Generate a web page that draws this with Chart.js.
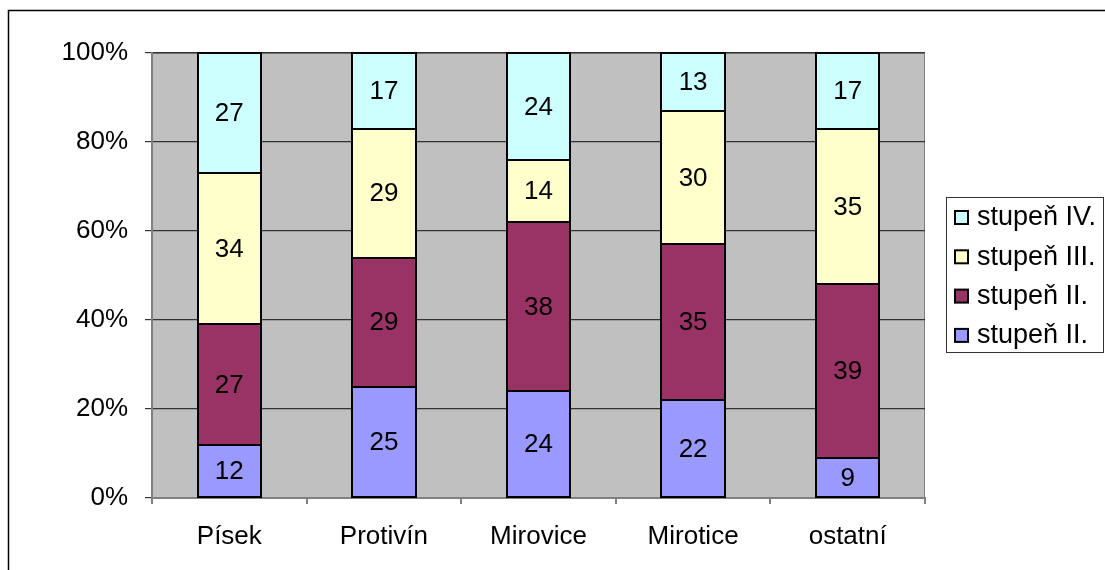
<!DOCTYPE html>
<html>
<head>
<meta charset="utf-8">
<script src="https://cdn.jsdelivr.net/npm/chart.js@4/dist/chart.umd.min.js"></script>
<style>
  html, body { margin: 0; padding: 0; background: #fff; }
  #wrap { width: 1105px; height: 570px; position: relative; }
</style>
</head>
<body>
<div id="wrap"><canvas id="chart" width="1105" height="570"></canvas></div>
<script>
// categories and share of each grade (percent)
const categories = ["Písek", "Protivín", "Mirovice", "Mirotice", "ostatní"];
const seriesNames = ["stupeň II.", "stupeň II.", "stupeň III.", "stupeň IV."];
const grade1 = [12, 25, 24, 22, 9];
const grade2 = [27, 29, 38, 35, 39];
const grade3 = [34, 29, 14, 30, 35];
const grade4 = [27, 17, 24, 13, 17];
const seriesColors = ["#9999FF", "#993366", "#FFFFCC", "#CCFFFF"];
const yTicks = [0, 20, 40, 60, 80, 100];

const FONT = "'Liberation Sans', Arial, sans-serif";
const FONT_SIZE = 26;

const datasets = [grade1, grade2, grade3, grade4].map((vals, i) => ({
    label: seriesNames[i],
    data: vals,
    backgroundColor: seriesColors[i],
    borderWidth: 0,
    inflateAmount: 0,
    barPercentage: 0.41,
    categoryPercentage: 1
}));

// grey plot background
const plotBg = {
    id: "plotBg",
    beforeDraw(chart) {
        const { ctx, chartArea: a } = chart;
        ctx.save();
        ctx.fillStyle = "#C0C0C0";
        ctx.fillRect(a.left, a.top, a.right - a.left, a.bottom - a.top);
        ctx.strokeStyle = "#808080";
        ctx.lineWidth = 1;
        ctx.strokeRect(a.left + 0.5, a.top + 0.5, a.right - a.left - 1, a.bottom - a.top - 1);
        ctx.restore();
    }
};

// black outline round every segment, then its value in the middle
const segLabels = {
    id: "segLabels",
    afterDatasetsDraw(chart) {
        const ctx = chart.ctx;
        ctx.save();
        ctx.strokeStyle = "#000";
        ctx.lineWidth = 2;
        chart.data.datasets.forEach((ds, di) => {
            chart.getDatasetMeta(di).data.forEach(bar => {
                const { x, y, base, width } = bar.getProps(["x", "y", "base", "width"], true);
                const l = Math.round(x - width / 2), r = Math.round(x + width / 2);
                const t = Math.round(Math.min(y, base)), b = Math.round(Math.max(y, base));
                ctx.strokeRect(l, t, r - l, b - t);
            });
        });
        ctx.font = FONT_SIZE + "px " + FONT;
        ctx.fillStyle = "#000";
        ctx.textAlign = "center";
        ctx.textBaseline = "middle";
        chart.data.datasets.forEach((ds, di) => {
            chart.getDatasetMeta(di).data.forEach((bar, i) => {
                const p = bar.getCenterPoint();
                ctx.fillText(String(ds.data[i]), p.x, p.y + 1);
            });
        });
        ctx.restore();
    }
};

// boxed legend on the right, top series first, plus outer frame
const sideLegend = {
    id: "sideLegend",
    afterDraw(chart) {
        const ctx = chart.ctx;
        const box = { x: 946, y: 197, w: 157, h: 155 };
        ctx.save();
        ctx.strokeStyle = "#333";
        ctx.lineWidth = 1;
        ctx.strokeRect(box.x + 0.5, box.y + 0.5, box.w, box.h);

        const items = chart.data.datasets.slice().reverse();
        ctx.font = "27px " + FONT;
        ctx.textAlign = "left";
        ctx.textBaseline = "middle";
        items.forEach((ds, i) => {
            const cy = 217 + i * 39.3;
            ctx.fillStyle = ds.backgroundColor;
            ctx.fillRect(955, cy - 6, 13, 13);
            ctx.strokeStyle = "#000";
            ctx.lineWidth = 2;
            ctx.strokeRect(955, cy - 6, 13, 13);
            ctx.fillStyle = "#000";
            ctx.fillText(ds.label, 977, cy + 1);
        });

        // outer frame
        ctx.strokeStyle = "#000";
        ctx.lineWidth = 1.5;
        ctx.beginPath();
        ctx.moveTo(1105, 10.5);
        ctx.lineTo(8.5, 10.5);
        ctx.lineTo(8.5, 570);
        ctx.stroke();
        ctx.restore();
    }
};

new Chart(document.getElementById("chart"), {
    type: "bar",
    data: { labels: categories, datasets: datasets },
    options: {
        responsive: false,
        animation: false,
        events: [],
        layout: { padding: { top: 53, right: 180, left: 0, bottom: 0 } },
        plugins: {
            legend: { display: false },
            tooltip: { enabled: false }
        },
        scales: {
            x: {
                stacked: true,
                offset: true,
                afterFit(scale) { scale.height = 72; },
                grid: {
                    offset: true,
                    drawOnChartArea: false,
                    drawTicks: true,
                    tickLength: 6,
                    color: "#808080",
                    lineWidth: 2
                },
                border: { display: true, color: "#808080", width: 2 },
                ticks: {
                    color: "#000",
                    font: { family: FONT, size: FONT_SIZE },
                    padding: 17,
                    maxRotation: 0,
                    autoSkip: false
                }
            },
            y: {
                stacked: true,
                min: 0,
                max: 100,
                afterFit(scale) { scale.width = 152; },
                afterBuildTicks(scale) {
                    scale.ticks = yTicks.map(v => ({ value: v }));
                },
                grid: {
                    color: "#333",
                    lineWidth: 1.2,
                    drawTicks: true,
                    tickLength: 7
                },
                border: { display: true, color: "#808080", width: 2 },
                ticks: {
                    color: "#000",
                    font: { family: FONT, size: FONT_SIZE },
                    padding: 17,
                    callback: v => v + "%"
                }
            }
        }
    },
    plugins: [plotBg, segLabels, sideLegend]
});
</script>
</body>
</html>
